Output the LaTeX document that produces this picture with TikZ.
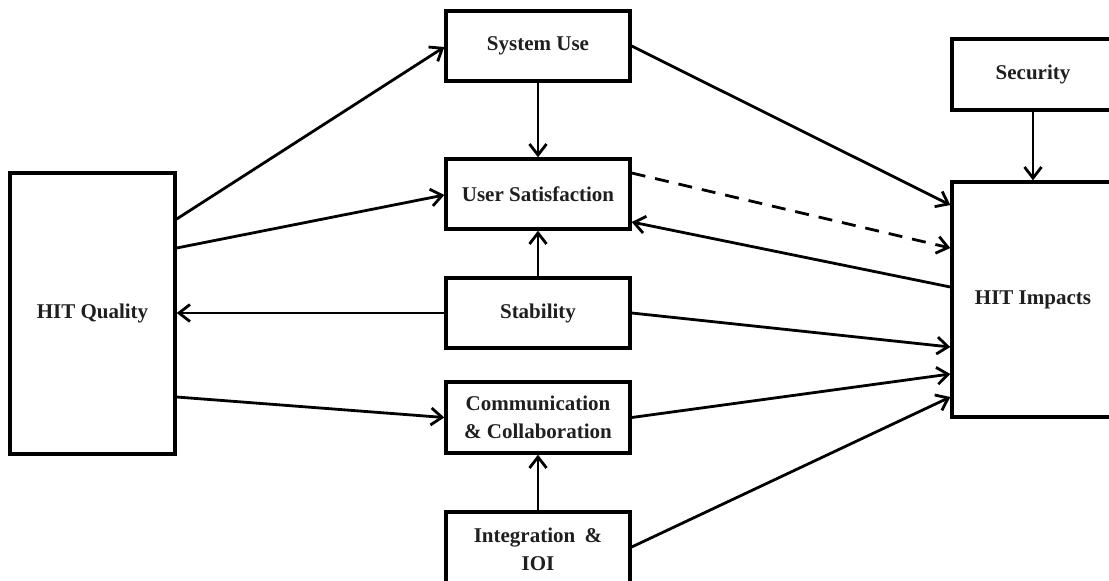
\documentclass[tikz,border=0pt]{standalone}
\usepackage{fontspec}
\setmainfont{Liberation Serif}
\usetikzlibrary{arrows.meta,calc}
\begin{document}
\begin{tikzpicture}[x=1pt,y=-1pt,
  box/.style={draw, line width=3.4pt, rectangle, inner sep=0pt,
    font=\bfseries\fontsize{21}{28}\selectfont, align=center, text=black!88},
  link/.style={line width=2.8pt,
    -{Straight Barb[length=11pt,width=17pt,line width=2.8pt]}},
  dashlink/.style={link, dash pattern=on 14pt off 10pt},
]
\clip (0,0) rectangle (1109,581);
\fill[white] (0,0) rectangle (1109,581);

% boxes
\node[box, minimum width=165pt, minimum height=281pt] (hq) at (92.5,313.5) {HIT Quality};
\node[box, minimum width=184pt, minimum height=70pt] (su) at (538,46) {System Use};
\node[box, minimum width=184pt, minimum height=70pt] (us) at (538,194) {User Satisfaction};
\node[box, minimum width=184pt, minimum height=70pt] (st) at (538,313) {Stability};
\node[box, minimum width=184pt, minimum height=71pt] (cc) at (538,417.5) {Communication\\\& Collaboration};
\node[box, minimum width=184pt, minimum height=74pt] (io) at (538,549) {Integration\hspace{0.45em}\&\\IOI};
\node[box, minimum width=162pt, minimum height=71pt] (sec) at (1033,74.5) {Security};
\node[box, minimum width=162pt, minimum height=235pt] (hi) at (1033,299.5) {HIT Impacts};

% links from HIT Quality
\draw[link] ($(hq.east)+(0,-94.5)$) -- ($(su.west)+(0,1)$);
\draw[link] ($(hq.east)+(0,-65.5)$) -- ($(us.west)+(0,1)$);
\draw[link] (st.west) -- (st.west -| hq.east);
\draw[link] ($(hq.east)+(0,83.5)$) -- (cc.west);

% vertical links in the middle column
\draw[link] (su.south) -- (us.north);
\draw[link] (st.north) -- (us.south);
\draw[link] (io.north) -- (cc.south);
\draw[link] (sec.south) -- (hi.north);

% links towards and from HIT Impacts
\draw[link] (su.east) -- ($(hi.west)+(0,-94.5)$);
\draw[dashlink] ($(us.east)+(0,-21)$) -- ($(hi.west)+(0,-51.5)$);
\draw[link] ($(hi.west)+(0,-12.5)$) -- ($(us.east)+(0,28)$);
\draw[link] (st.east) -- ($(hi.west)+(0,47.5)$);
\draw[link] (cc.east) -- ($(hi.west)+(0,74.5)$);
\draw[link] ($(io.east)+(0,-2)$) -- ($(hi.west)+(0,97.5)$);
\end{tikzpicture}
\end{document}
